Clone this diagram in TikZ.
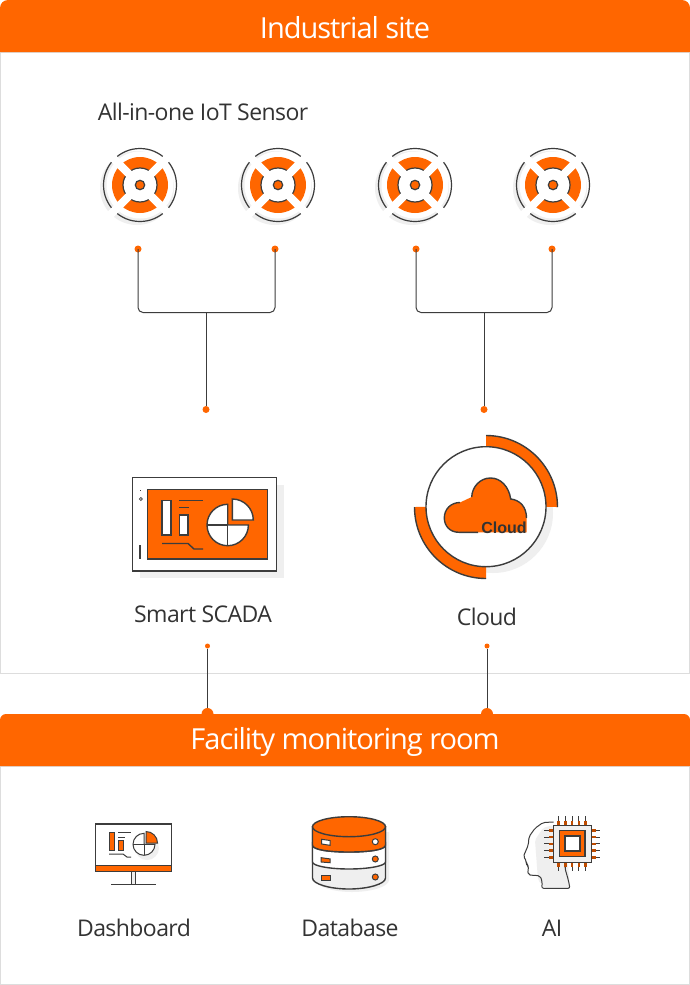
\documentclass[tikz,border=0pt]{standalone}
\usepackage{fontspec}
\setmainfont[LetterSpace=-2.5]{Open Sans}
\newfontfamily\bandfont[LetterSpace=-3.5]{Open Sans}
\newfontfamily\markfont{Liberation Sans}
\definecolor{siteorange}{RGB}{255, 102, 0}
\definecolor{wiredark}{RGB}{60, 60, 60}
\definecolor{textdark}{RGB}{51, 51, 51}
\definecolor{shadowgray}{RGB}{239, 239, 239}
\definecolor{frameline}{RGB}{221, 221, 221}
\usetikzlibrary{positioning, calc}

\begin{document}
\begin{tikzpicture}[
    x=1pt, y=1pt,
    bandtext/.style={text=white, font=\bandfont\fontsize{29}{32}\selectfont, inner sep=0pt},
    label/.style={text=textdark, font=\fontsize{23}{26}\selectfont, inner sep=0pt},
    dot/.style={circle, fill=siteorange, inner sep=0pt, minimum size=7pt},
    tinydot/.style={circle, fill=siteorange, inner sep=0pt, minimum size=5pt},
    bigdot/.style={circle, fill=siteorange, inner sep=0pt, minimum size=12pt},
    wire/.style={draw=wiredark, line width=1pt},
    icon/.style={draw=wiredark, line width=1.4pt},
    thinicon/.style={draw=wiredark, line width=1pt}
]
    \useasboundingbox (0,0) rectangle (690,-985);
    \fill[white] (0,0) rectangle (690,-985);

    % panels and bands
    \draw[frameline, line width=1pt] (0.5,-52) rectangle (689.5,-673);
    \draw[frameline, line width=1pt] (0.5,-766) rectangle (689.5,-984.5);

    % wires
    \node[dot] (sensorA) at (138,-249) {};
    \node[dot] (sensorB) at (275,-249) {};
    \node[dot] (sensorC) at (416,-249) {};
    \node[dot] (sensorD) at (552,-249) {};
    \node[dot] (scadaIn) at (206,-409.5) {};
    \node[dot] (cloudIn) at (484,-409.5) {};
    \coordinate (joinL) at (206,-312.5);
    \coordinate (joinR) at (484,-312.5);
    \draw[wire, rounded corners=5] (sensorA.center) |- (joinL) -| (sensorB.center);
    \draw[wire, rounded corners=5] (sensorC.center) |- (joinR) -| (sensorD.center);
    \draw[wire] (joinL) -- (scadaIn);
    \draw[wire] (joinR) -- (cloudIn);

    \node[tinydot] (scadaOut) at (207.5,-646) {};
    \node[tinydot] (cloudOut) at (487,-646) {};
    \node[bigdot] (roomInL) at (207.5,-714) {};
    \node[bigdot] (roomInR) at (487,-714) {};
    \draw[wire] (scadaOut) -- (roomInL);
    \draw[wire] (cloudOut) -- (roomInR);

    \fill[siteorange] (0,-52) [rounded corners=8] -- (0,0) -- (690,0) [sharp corners] -- (690,-52) -- cycle;
    \fill[siteorange] (0,-766) [rounded corners=6] -- (0,-714) -- (690,-714) [sharp corners] -- (690,-766) -- cycle;
    \node[bandtext] (siteTitle) at (345,-27.5) {Industrial site};
    \node[bandtext] (roomTitle) at (345,-741.5) {Facility monitoring room};

    % sensors
    \node[label] (sensorLabel) at (203,-112) {All-in-one IoT Sensor};
    \foreach \cx in {140,278,415,553} {
    \begin{scope}[shift={(\cx,-185)}]
        \fill[shadowgray] (-3,-3) circle (37);
        \fill[white] (0,0) circle (33.5);
        \draw[wiredark, line width=1.2pt] (0,0) circle (36.5);
        \fill[siteorange] (0,0) circle (28);
        \fill[white] (0,0) circle (17);
        \draw[wiredark, line width=1.2pt] (0,0) circle (17);
        \draw[white, line width=8pt] (-42,-42) -- (42,42);
        \draw[white, line width=8pt] (-42,42) -- (42,-42);
        \filldraw[fill=siteorange, draw=wiredark, line width=1.2pt] (0,0) circle (4.7);
    \end{scope}
    }

    % smart scada
    \fill[shadowgray] (140,-485) rectangle (284,-578);
    \filldraw[fill=white, icon] (132.7,-477.7) rectangle (276.7,-571);
    \filldraw[fill=siteorange, icon] (147.5,-489.5) rectangle (267.5,-559);
    \draw[thinicon] (140.2,-490.3) -- (141.4,-490.3);
    \draw[thinicon, line width=0.7pt] (140.8,-499) circle (1.5);
    \draw[wiredark, line width=2.5pt] (140,-545) -- (140,-559);
    \filldraw[fill=white, icon] (162,-500.5) rectangle (171,-535);
    \filldraw[fill=white, icon] (179.5,-515) rectangle (188,-535);
    \draw[icon] (179,-500.5) -- (203,-500.5);
    \draw[icon] (179,-507.5) -- (189,-507.5);
    \draw[icon] (162,-543.5) -- (188,-543.5) -- (194,-549) -- (203,-549);
    \filldraw[fill=white, icon] (227.7,-525) -- ++(20.7,0) arc[start angle=0, end angle=-270, radius=20.7] -- cycle;
    \draw[icon] (207,-525) -- (227.7,-525) -- (227.7,-545.7);
    \filldraw[fill=white, icon] (232.3,-520) -- ++(21,0) arc[start angle=0, end angle=90, radius=21] -- cycle;
    \node[label] (scadaLabel) at (203,-614) {Smart SCADA};

    % cloud
    \fill[shadowgray] (493,-513) circle (60);
    \fill[siteorange] (486,-435.5) arc[start angle=90, end angle=0, radius=71.5] -- (486,-506.7) -- cycle;
    \fill[siteorange] (414.5,-507) arc[start angle=180, end angle=270, radius=71.5] -- (486,-506.7) -- cycle;
    \draw[icon] (486,-435.5) arc[start angle=90, end angle=0, radius=71.5];
    \draw[icon] (414.5,-507) arc[start angle=180, end angle=270, radius=71.5];
    \filldraw[fill=white, icon] (486,-506.7) circle (60);
    \fill[siteorange] (459,-532.3) .. controls (450,-532.3) and (444.3,-526) .. (444.3,-518) .. controls (444.3,-509) and (451,-502.5) .. (460,-502.5) -- (471.7,-497) .. controls (472,-487) and (480,-478) .. (490.5,-478) .. controls (501,-478) and (509,-487) .. (510.7,-499) .. controls (520,-500) and (526.5,-507) .. (526.5,-518) -- (526.5,-532.3) -- cycle;
    \draw[icon] (478,-532.3) -- (459,-532.3) .. controls (450,-532.3) and (444.3,-526) .. (444.3,-518) .. controls (444.3,-509) and (451,-502.5) .. (460,-502.5);
    \draw[icon] (471.7,-497) .. controls (472,-487) and (480,-478) .. (490.5,-478) .. controls (501,-478) and (509,-487) .. (510.7,-499) .. controls (520,-500) and (526.5,-507) .. (526.5,-518);
    \node[text=textdark, font=\markfont\bfseries\fontsize{16}{18}\selectfont, inner sep=0pt] (cloudMark) at (504,-527.5) {Cloud};
    \node[label] (cloudLabel) at (487,-617) {Cloud};

    % dashboard
    \filldraw[fill=white, icon] (95.3,-824) rectangle (171.7,-871);
    \fill[shadowgray] (147,-848) circle (12);
    \filldraw[fill=siteorange, thinicon] (95.3,-865) rectangle (171.7,-871);
    \filldraw[fill=shadowgray, thinicon] (131.7,-871) rectangle (135.5,-884.3);
    \draw[icon] (111,-884.3) -- (156,-884.3);
    \filldraw[fill=siteorange, thinicon] (109.5,-832) rectangle (114,-850.5);
    \filldraw[fill=siteorange, thinicon] (118.5,-840) rectangle (123,-850.5);
    \draw[thinicon] (118,-832) -- (131,-832);
    \draw[thinicon] (118,-837) -- (125,-837);
    \draw[thinicon] (109,-854) -- (123,-854) -- (127,-857) -- (131,-857);
    \filldraw[fill=white, thinicon] (144,-844.3) -- ++(11,0) arc[start angle=0, end angle=-270, radius=11] -- cycle;
    \draw[thinicon] (133,-844.3) -- (144,-844.3) -- (144,-855.3);
    \filldraw[fill=siteorange, thinicon] (146,-843) -- ++(11.5,0) arc[start angle=0, end angle=90, radius=11.5] -- cycle;
    \node[label] (dashLabel) at (134,-928) {Dashboard};

    % database
    \fill[shadowgray] (316,-832) rectangle (389,-880) (316,-880) -- (389,-880) .. controls (389,-887) and (370,-892) .. (352,-892) .. controls (334,-892) and (316,-887) .. (316,-880);
    \filldraw[fill=shadowgray, icon] (312.5,-826.7) -- (312.5,-878) .. controls (312.5,-884) and (330,-889) .. (349,-889) .. controls (368,-889) and (385.5,-884) .. (385.5,-878) -- (385.5,-826.7) -- cycle;
    \filldraw[fill=white, icon] (312.5,-845) .. controls (312.5,-850) and (330,-852) .. (349,-852) .. controls (368,-852) and (385.5,-850) .. (385.5,-845) -- (385.5,-862) .. controls (385.5,-866) and (368,-869) .. (349,-869) .. controls (330,-869) and (312.5,-866) .. (312.5,-862) -- cycle;
    \filldraw[fill=siteorange, icon] (312.5,-826.7) -- (312.5,-845) .. controls (312.5,-850) and (330,-852) .. (349,-852) .. controls (368,-852) and (385.5,-850) .. (385.5,-845) -- (385.5,-826.7) -- cycle;
    \filldraw[fill=siteorange, icon] (349,-826.7) ellipse (36.5 and 10);
    \filldraw[fill=white, thinicon] (321.7,-839.3) -- (330,-840.5) -- (330,-845.3) -- (321.7,-844) -- cycle;
    \filldraw[fill=siteorange, thinicon] (321.2,-857.7) -- (330,-858.9) -- (330,-862.7) -- (321.2,-862) -- cycle;
    \filldraw[fill=siteorange, thinicon] (321.2,-875) -- (330,-875) -- (330,-880) -- (321.2,-880) -- cycle;
    \filldraw[fill=white, thinicon] (375.3,-841.7) circle (3);
    \filldraw[fill=siteorange, thinicon] (375.3,-859) circle (3);
    \filldraw[fill=siteorange, thinicon] (375.3,-877) circle (3);
    \node[label] (dataLabel) at (350,-928) {Database};

    % ai
    \fill[shadowgray, rounded corners=2] (553,-825) -- (543,-828) -- (535,-840) -- (538,-880) -- (545,-888.3) -- (570,-888.3) -- (568,-865) -- cycle;
    \draw[thinicon, rounded corners=2] (553.7,-822) -- (543,-822.5) -- (535,-828.3) -- (529,-836.7) -- (528.3,-845) -- (523.3,-856.7) -- (526.7,-861) -- (526,-864.3) -- (529,-866) -- (527.7,-870) -- (528.3,-875) -- (540,-875.7) -- (542.3,-881.7) -- (541.7,-888.3) -- (570,-888.3) -- (568.3,-880) -- (565,-868.3) -- (565,-862.3);
    \foreach \p in {0,1,2,3,4} {
        \draw[wiredark, line width=1pt] ({558.7+6.75*\p},-816) -- ({558.7+6.75*\p},-825);
        \draw[wiredark, line width=1pt] ({558.7+6.75*\p},-862) -- ({558.7+6.75*\p},-871);
        \draw[wiredark, line width=1pt] (544.3,{-830.3-6.75*\p}) -- (554,{-830.3-6.75*\p});
        \draw[wiredark, line width=1pt] (591,{-830.3-6.75*\p}) -- (600,{-830.3-6.75*\p});
        \draw[siteorange!75!black, line width=2.5pt] ({558.7+6.75*\p},-820.5) -- ({558.7+6.75*\p},-825);
        \draw[siteorange!75!black, line width=2.5pt] ({558.7+6.75*\p},-862) -- ({558.7+6.75*\p},-866.5);
        \draw[siteorange!75!black, line width=2.5pt] (549,{-830.3-6.75*\p}) -- (554,{-830.3-6.75*\p});
        \draw[siteorange!75!black, line width=2.5pt] (591,{-830.3-6.75*\p}) -- (595.5,{-830.3-6.75*\p});
    }
    \filldraw[fill=shadowgray, thinicon] (553.7,-825) rectangle (591,-862.3);
    \filldraw[fill=siteorange, icon] (559.3,-830.7) rectangle (585,-856.7);
    \filldraw[fill=white, icon] (565,-836) rectangle (580,-851);
    \node[label] (aiLabel) at (552,-928) {AI};
\end{tikzpicture}
\end{document}
